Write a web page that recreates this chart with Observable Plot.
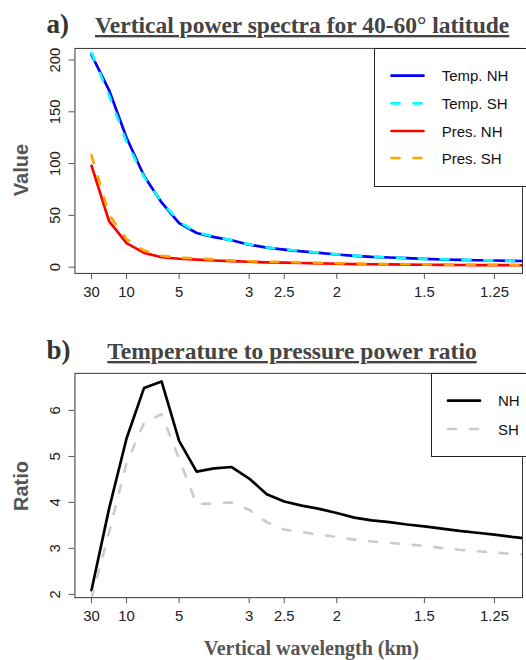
<!DOCTYPE html>
<html>
<head>
<meta charset="utf-8">
<script src="https://cdn.jsdelivr.net/npm/d3@7"></script>
<script src="https://cdn.jsdelivr.net/npm/@observablehq/plot@0.6"></script>
<style>
  body { margin: 0; background: #fff; }
  #root { position: relative; width: 526px; height: 660px; overflow: hidden; background: #fff; }
  #root > svg { position: absolute; left: 0; }
  #overlay { top: 0; pointer-events: none; }
</style>
</head>
<body>
<div id="root"></div>
<script>
// ---- data ----
// wavenumber: cycles per 30 km (x = wavenumber / 30 km^-1)
const wavenumber = [1,2,3,4,5,6,7,8,9,10,11,12,13,14,15,16,17,18,19,20,21,22,23,24,25,26];
const tickWavelengths = [30, 10, 5, 3, 2.5, 2, 1.5, 1.25];
const tickLabels = ["30", "10", "5", "3", "2.5", "2", "1.5", "1.25"];
const valueTicks = [0, 50, 100, 150, 200];
const ratioTicks = [2, 3, 4, 5, 6];

const tempNH = [205, 171, 125, 88, 62.5, 42.5, 33, 29, 26, 21.7, 18.9, 17, 15.3, 13.8, 12.2, 10.9, 9.9, 9.3, 8.7, 8.0, 7.4, 7.0, 6.7, 6.4, 6.1, 5.8];
const tempSH = [207, 166, 121, 87, 63, 44, 33.5, 29.5, 26, 22, 19, 17.2, 15.5, 13.9, 12.4, 11.1, 10.1, 9.4, 8.8, 8.1, 7.6, 7.2, 6.8, 6.5, 6.2, 5.9];
const presNH = [98, 44.5, 23.2, 13.8, 9.6, 8.1, 7.2, 6.4, 5.8, 5.2, 4.7, 4.3, 4.0, 3.7, 3.3, 3.0, 2.8, 2.6, 2.5, 2.3, 2.2, 2.1, 2.0, 1.9, 1.9, 1.8];
const presSH = [108, 50.5, 27, 16, 11, 9.2, 8.4, 7.4, 6.5, 5.7, 5.3, 5.0, 4.6, 4.2, 3.8, 3.5, 3.2, 3.0, 2.8, 2.65, 2.5, 2.4, 2.3, 2.2, 2.1, 2.05];

const ratioNH = [2.09, 3.86, 5.39, 6.49, 6.63, 5.34, 4.67, 4.74, 4.77, 4.52, 4.18, 4.02, 3.93, 3.86, 3.77, 3.67, 3.61, 3.57, 3.52, 3.48, 3.43, 3.38, 3.34, 3.30, 3.25, 3.21];
const ratioSH = [1.91, 3.35, 4.86, 5.73, 5.92, 4.95, 3.96, 3.98, 4.00, 3.84, 3.57, 3.41, 3.35, 3.30, 3.25, 3.19, 3.15, 3.12, 3.09, 3.05, 3.01, 2.97, 2.94, 2.91, 2.88, 2.86];

const spectraSeries = [
  {name: "Temp. NH", values: tempNH, color: "#0000ff", dash: null},
  {name: "Temp. SH", values: tempSH, color: "#00ffff", dash: "8,14"},
  {name: "Pres. NH", values: presNH, color: "#ff0000", dash: null},
  {name: "Pres. SH", values: presSH, color: "#ffa500", dash: "8,14"}
];
const ratioSeries = [
  {name: "NH", values: ratioNH, color: "#000000", dash: null},
  {name: "SH", values: ratioSH, color: "#cccccc", dash: "8,14"}
];

// ---- helpers ----
const tickValues = tickWavelengths.map(w => 1 / w);
const tickLabelMap = new Map(tickValues.map((v, i) => [v, tickLabels[i]]));
const xDomain = [0.0018, 0.8534];
const LW = 2.7;

function rowsOf(values) {
  return wavenumber.map((k, i) => ({x: k / 30, y: values[i]}));
}
function lineMarks(series) {
  return series.map(s => Plot.line(rowsOf(s.values), {
    x: "x", y: "y", stroke: s.color, strokeWidth: LW,
    strokeDasharray: s.dash ?? undefined, strokeLinecap: "round", strokeLinejoin: "round",
    clip: true
  }));
}
function axes(yTicks) {
  return [
    Plot.axisX(tickValues, {tickFormat: d => tickLabelMap.get(d), tickSize: 6, tickPadding: 7, label: null, stroke: "#555", fontSize: 15}),
    Plot.axisY(yTicks, {tickRotate: -90, textAnchor: "middle", lineAnchor: "bottom", tickSize: 6, tickPadding: 9, label: null, stroke: "#555", fontSize: 15})
  ];
}
const style = {fontFamily: "Liberation Sans, Arial, sans-serif", fontSize: "15px", color: "#222", background: "#fff", overflow: "visible"};

const chartA = Plot.plot({
  width: 530, height: 315,
  marginLeft: 75, marginRight: 4, marginTop: 48.3, marginBottom: 40,
  style,
  x: {type: "linear", domain: xDomain},
  y: {domain: [-6.04, 211.2]},
  marks: [
    ...lineMarks(spectraSeries),
    Plot.frame({stroke: "#333"}),
    ...axes(valueTicks)
  ]
});
chartA.style.top = "0px";

const chartB = Plot.plot({
  width: 530, height: 345,
  marginLeft: 75, marginRight: 4, marginTop: 58.3, marginBottom: 60.7,
  style,
  x: {type: "linear", domain: xDomain},
  y: {domain: [1.929, 6.807]},
  marks: [
    ...lineMarks(ratioSeries),
    Plot.frame({stroke: "#333"}),
    ...axes(ratioTicks)
  ]
});
chartB.style.top = "315px";

const root = document.getElementById("root");
root.appendChild(chartA);
root.appendChild(chartB);

// ---- overlay: titles, axis titles, legends ----
const NS = "http://www.w3.org/2000/svg";
const ov = document.createElementNS(NS, "svg");
ov.setAttribute("id", "overlay");
ov.setAttribute("width", 526);
ov.setAttribute("height", 660);
root.appendChild(ov);

function el(tag, attrs, text) {
  const e = document.createElementNS(NS, tag);
  for (const k in attrs) e.setAttribute(k, attrs[k]);
  if (text != null) e.textContent = text;
  ov.appendChild(e);
  return e;
}
const serif = "Liberation Serif, Times New Roman, serif";
const sans = "Liberation Sans, Arial, sans-serif";

el("text", {x: 46.5, y: 33, "font-family": serif, "font-weight": "bold", "font-size": 27, fill: "#333"}, "a)");
el("text", {x: 95, y: 33, "font-family": serif, "font-weight": "bold", "font-size": 23.5, fill: "#444", "text-decoration": "underline"}, "Vertical power spectra for 40-60° latitude");
el("text", {x: 46.5, y: 359, "font-family": serif, "font-weight": "bold", "font-size": 27, fill: "#333"}, "b)");
el("text", {x: 107.3, y: 359, "font-family": serif, "font-weight": "bold", "font-size": 23.5, fill: "#444", "text-decoration": "underline"}, "Temperature to pressure power ratio");

el("text", {x: 311.5, y: 655, "text-anchor": "middle", "font-family": serif, "font-weight": "bold", "font-size": 20, fill: "#555"}, "Vertical wavelength (km)");
el("text", {transform: "translate(27.5,170) rotate(-90)", "text-anchor": "middle", "font-family": sans, "font-weight": "bold", "font-size": 20, fill: "#555"}, "Value");
el("text", {transform: "translate(27.5,486) rotate(-90)", "text-anchor": "middle", "font-family": sans, "font-weight": "bold", "font-size": 20, fill: "#555"}, "Ratio");

function legend(series, box, x1, x2, tx, rowY) {
  el("rect", {x: box.x, y: box.y, width: box.w, height: box.h, fill: "#fff", stroke: "#222", "stroke-width": 1});
  series.forEach((s, i) => {
    const y = rowY[i];
    const a = {x1, x2, y1: y, y2: y, stroke: s.color, "stroke-width": LW, "stroke-linecap": "round"};
    if (s.dash) a["stroke-dasharray"] = s.dash;
    el("line", a);
    el("text", {x: tx, y: y + 5.5, "font-family": sans, "font-size": 15, fill: "#111"}, s.name);
  });
}
legend(spectraSeries, {x: 374.5, y: 48.5, w: 200, h: 138}, 391.5, 423.5, 441.7, [75.7, 103.3, 131, 158]);
legend(ratioSeries, {x: 431.5, y: 373.5, w: 200, h: 83}, 448, 480, 498, [400.7, 429]);
</script>
</body>
</html>
